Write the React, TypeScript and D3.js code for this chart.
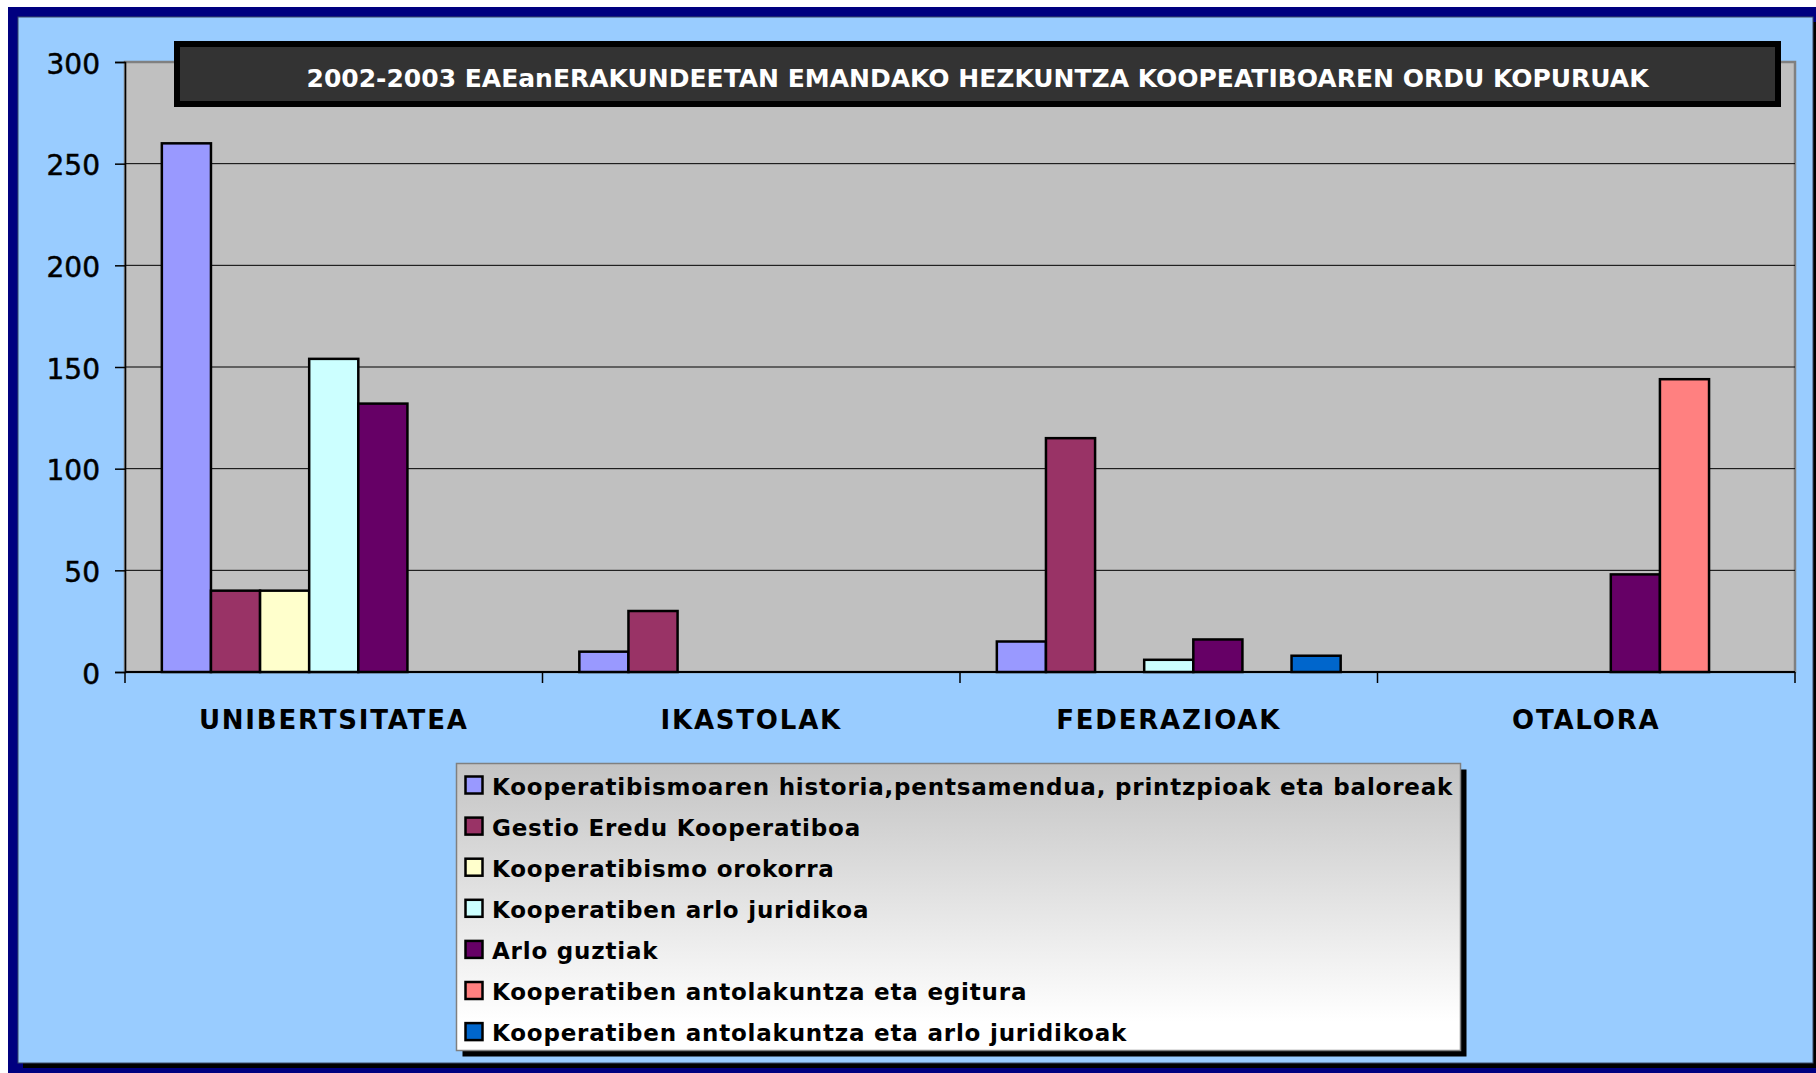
import React, { useRef, useEffect } from 'react';
import * as d3 from 'd3';

const categories = ['UNIBERTSITATEA', 'IKASTOLAK', 'FEDERAZIOAK', 'OTALORA'];
const seriesNames = [
  'Kooperatibismoaren historia,pentsamendua, printzpioak eta baloreak',
  'Gestio Eredu Kooperatiboa',
  'Kooperatibismo orokorra',
  'Kooperatiben arlo juridikoa',
  'Arlo guztiak',
  'Kooperatiben antolakuntza eta egitura',
  'Kooperatiben antolakuntza eta arlo juridikoak',
];
const seriesColors = ['#9999FF', '#993366', '#FFFFCC', '#CCFFFF', '#660066', '#FF8080', '#0066CC'];
// one row per series, one value per category
const historia = [260, 10, 15, 0];
const gestio = [40, 30, 115, 0];
const orokorra = [40, 0, 0, 0];
const juridikoa = [154, 0, 6, 0];
const guztiak = [132, 0, 16, 48];
const egitura = [0, 0, 0, 144];
const juridikoak = [0, 0, 8, 0];
const seriesValues = [historia, gestio, orokorra, juridikoa, guztiak, egitura, juridikoak];
const yTicks = [0, 50, 100, 150, 200, 250, 300];
const title = '2002-2003 EAEanERAKUNDEETAN EMANDAKO HEZKUNTZA KOOPEATIBOAREN ORDU KOPURUAK';

const W = 1816;
const H = 1073;
const FONT = '"DejaVu Sans", Verdana, sans-serif';

const App = () => {
  const ref = useRef<SVGSVGElement | null>(null);

  useEffect(() => {
    if (!ref.current) return;
    const svg = d3.select(ref.current);
    svg.selectAll('*').remove();

    const plot = { left: 125, right: 1795, top: 62, bottom: 672 };

    // frame
    svg.append('rect').attr('x', 8).attr('y', 7).attr('width', W).attr('height', H).attr('fill', '#000080');
    svg.append('rect').attr('x', 23).attr('y', 22).attr('width', 1795).attr('height', 1046).attr('fill', '#000');
    svg.append('rect').attr('x', 18).attr('y', 17).attr('width', 1795).attr('height', 1046)
      .attr('fill', '#99CCFF').attr('stroke', '#3a4a66').attr('stroke-width', 1);

    const x0 = d3.scaleBand<string>().domain(categories).range([plot.left, plot.right]);
    const x1 = d3.scaleBand<number>()
      .domain(d3.range(seriesNames.length))
      .range([0, x0.bandwidth()])
      .paddingOuter(0.75);
    const y = d3.scaleLinear().domain([0, 300]).range([plot.bottom, plot.top]);

    // plot area
    svg.append('rect')
      .attr('x', plot.left).attr('y', plot.top)
      .attr('width', plot.right - plot.left).attr('height', plot.bottom - plot.top)
      .attr('fill', '#C0C0C0').attr('stroke', '#808080').attr('stroke-width', 2.5);

    svg.append('g').selectAll('line')
      .data(yTicks.filter(t => t > 0 && t < 300))
      .enter().append('line')
      .attr('x1', plot.left).attr('x2', plot.right)
      .attr('y1', d => y(d)).attr('y2', d => y(d))
      .attr('stroke', '#000').attr('stroke-width', 1);

    // bars
    const bars: { c: string; s: number; v: number }[] = [];
    seriesValues.forEach((vals, s) => vals.forEach((v, i) => { if (v > 0) bars.push({ c: categories[i], s, v }); }));
    svg.append('g').selectAll('rect')
      .data(bars)
      .enter().append('rect')
      .attr('x', d => (x0(d.c) as number) + (x1(d.s) as number))
      .attr('y', d => y(d.v))
      .attr('width', x1.bandwidth())
      .attr('height', d => y(0) - y(d.v))
      .attr('fill', d => seriesColors[d.s])
      .attr('stroke', '#000').attr('stroke-width', 2.5);

    // axes
    const yAxis = svg.append('g').attr('transform', `translate(${plot.left},0)`)
      .call(d3.axisLeft(y).tickValues(yTicks).tickSize(10).tickPadding(15));
    yAxis.select('.domain').attr('stroke', '#000').attr('stroke-width', 1.5);
    yAxis.selectAll('.tick line').attr('stroke', '#000').attr('stroke-width', 1.5);
    yAxis.selectAll('.tick text')
      .attr('font-family', FONT).attr('font-size', 28).attr('fill', '#000').attr('dy', '0.4em')
      .attr('stroke', '#000').attr('stroke-width', 0.5);

    const xAxis = svg.append('g').attr('transform', `translate(0,${plot.bottom})`);
    xAxis.append('line').attr('x1', plot.left).attr('x2', plot.right).attr('stroke', '#000').attr('stroke-width', 2);
    xAxis.selectAll('line.tk')
      .data([...categories.map(c => x0(c) as number), plot.right])
      .enter().append('line').attr('class', 'tk')
      .attr('x1', d => d).attr('x2', d => d).attr('y1', 0).attr('y2', 11)
      .attr('stroke', '#000').attr('stroke-width', 1.5);
    xAxis.selectAll('text')
      .data(categories)
      .enter().append('text')
      .attr('x', d => (x0(d) as number) + x0.bandwidth() / 2)
      .attr('y', 57)
      .attr('text-anchor', 'middle')
      .attr('font-family', FONT).attr('font-size', 26).attr('font-weight', 'bold')
      .attr('letter-spacing', 1.8)
      .text(d => d);

    // title
    svg.append('rect').attr('x', 177).attr('y', 44).attr('width', 1601).attr('height', 60)
      .attr('fill', '#333333').attr('stroke', '#000').attr('stroke-width', 6);
    svg.append('text').attr('x', 977.5).attr('y', 87)
      .attr('text-anchor', 'middle').attr('fill', '#fff')
      .attr('font-family', FONT).attr('font-size', 25).attr('font-weight', 'bold')
      .text(title);

    // legend
    const defs = svg.append('defs');
    const grad = defs.append('linearGradient').attr('id', 'legGrad').attr('x1', 0).attr('y1', 0).attr('x2', 0).attr('y2', 1);
    grad.append('stop').attr('offset', '0%').attr('stop-color', '#C4C4C4');
    grad.append('stop').attr('offset', '90%').attr('stop-color', '#FFFFFF');
    const lg = { x: 456.5, y: 763.5, w: 1004, h: 287 };
    svg.append('rect').attr('x', lg.x + 6).attr('y', lg.y + 6).attr('width', lg.w).attr('height', lg.h).attr('fill', '#000');
    svg.append('rect').attr('x', lg.x).attr('y', lg.y).attr('width', lg.w).attr('height', lg.h)
      .attr('fill', 'url(#legGrad)').attr('stroke', '#808080').attr('stroke-width', 1.5);

    const item = svg.append('g').selectAll('g')
      .data(seriesNames)
      .enter().append('g')
      .attr('transform', (_, i) => `translate(0,${785 + i * 41.1})`);
    item.append('rect')
      .attr('x', 465.5).attr('y', -8.5).attr('width', 17).attr('height', 17)
      .attr('fill', (_, i) => seriesColors[i]).attr('stroke', '#000').attr('stroke-width', 2.5);
    item.append('text')
      .attr('x', 492).attr('y', 9.5)
      .attr('font-family', FONT).attr('font-size', 23).attr('font-weight', 'bold').attr('fill', '#000')
      .attr('letter-spacing', 0.8)
      .text(d => d);
  }, []);

  return (
    <svg ref={ref} width={W} height={H} style={{ position: 'absolute', left: 0, top: 0, display: 'block' }} />
  );
};

export default App;
